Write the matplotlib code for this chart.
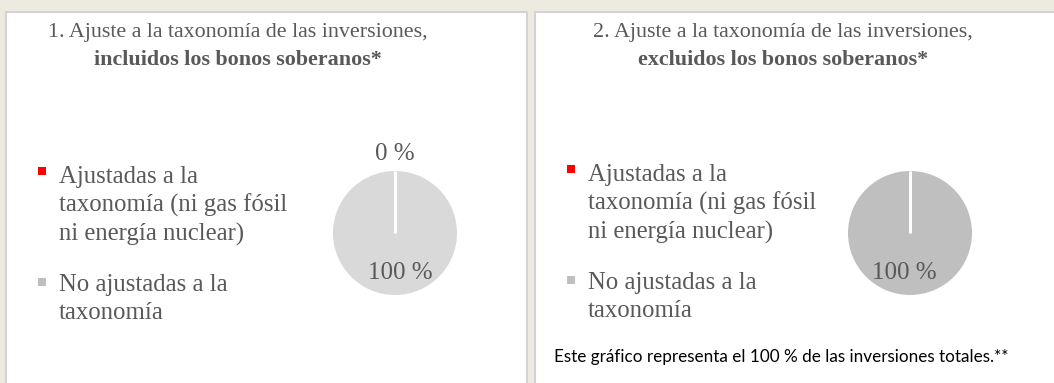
"""Taxonomy alignment of investments: two pie panels with legends."""
import matplotlib
matplotlib.use("Agg")  # noqa: E402
import matplotlib.pyplot as plt
import numpy as np
from matplotlib.patches import Rectangle

W, H = 1054, 383

# Data
categories = ["Ajustadas a la\ntaxonomía (ni gas fósil\nni energía nuclear)",
              "No ajustadas a la\ntaxonomía"]
titles = ["1. Ajuste a la taxonomía de las inversiones,",
          "2. Ajuste a la taxonomía de las inversiones,"]
subtitles = ["incluidos los bonos soberanos*", "excluidos los bonos soberanos*"]
values_incl = [0, 100]
values_excl = [0, 100]
footnote = "Este gráfico representa el 100 % de las inversiones totales.**"

BG = "#edeae1"
TXT = "#595959"
SERIF = ["Liberation Serif", "DejaVu Serif"]

fig = plt.figure(figsize=(W / 100, H / 100), dpi=100)
fig.patch.set_facecolor(BG)

# full-figure axes in pixel units for panels and text
base = fig.add_axes([0, 0, 1, 1])
base.set_xlim(0, W)
base.set_ylim(H, 0)
base.axis("off")

panels = [
    dict(x0=6, x1=527, title_x=238, leg_x=42, sq_y=[171, 282], text_x=59,
         text_y=[206, 299], pie_cx=395, pie_cy=233, lbl_dx=0.08,
         slice_colors=["#ff0000", "#d9d9d9"], values=values_incl, show_zero=True),
    dict(x0=535, x1=W + 5, title_x=783, leg_x=571, sq_y=[169, 280], text_x=588,
         text_y=[204, 297], pie_cx=910, pie_cy=233, lbl_dx=-0.09,
         slice_colors=["#ff0000", "#bfbfbf"], values=values_excl, show_zero=False),
]
legend_colors = ["#ff0000", "#bfbfbf"]

for i, p in enumerate(panels):
    base.add_patch(Rectangle((p["x0"], 12), p["x1"] - p["x0"], H,
                             facecolor="white", edgecolor="#d3d3d3", lw=1.5))
    base.text(p["title_x"], 33, titles[i], ha="center", va="center",
              fontsize=15.8, color=TXT, family=SERIF)
    base.text(p["title_x"], 60, subtitles[i], ha="center", va="center",
              fontsize=15.8, color=TXT, family=SERIF, fontweight="bold")

    # legend entries
    for j, cat in enumerate(categories):
        sy = p["sq_y"][j]
        base.add_patch(Rectangle((p["leg_x"] - 4, sy - 4), 8, 8,
                                 facecolor=legend_colors[j], edgecolor="none"))
        base.text(p["text_x"], p["text_y"][j], cat, ha="left", va="center",
                  fontsize=17.8, color=TXT, family=SERIF, linespacing=1.3)

    # pie
    r = 62
    ax = fig.add_axes([(p["pie_cx"] - r) / W, (H - p["pie_cy"] - r) / H,
                       2 * r / W, 2 * r / H])
    wedges, _ = ax.pie(p["values"], colors=p["slice_colors"], startangle=90,
                       counterclock=False, radius=1,
                       wedgeprops=dict(edgecolor="white", linewidth=0))
    ax.set_xlim(-1, 1)
    ax.set_ylim(-1, 1)
    for w, v in zip(wedges, p["values"]):
        mid = np.deg2rad((w.theta1 + w.theta2) / 2)
        if v == 0:
            # zero-size slice shows as a white radial gap
            ax.plot([0, np.cos(mid)], [0, np.sin(mid)], color="white", lw=2.2,
                    solid_capstyle="butt")
            if not p["show_zero"]:
                continue
            ax.text(1.27 * np.cos(mid), 1.27 * np.sin(mid), f"{v} %",
                    ha="center", va="center", fontsize=18, color=TXT,
                    family=SERIF, clip_on=False)
        else:
            ax.text(0.62 * np.cos(mid) + p["lbl_dx"], 0.64 * np.sin(mid),
                    f"{v} %", ha="center", va="center", fontsize=18, color=TXT,
                    family=SERIF, clip_on=False)

base.text(554, 357, footnote, ha="left", va="center", fontsize=12.3,
          color="black", family=["Lato", "DejaVu Sans"])

fig.savefig("out.png", dpi=100, facecolor=BG)
